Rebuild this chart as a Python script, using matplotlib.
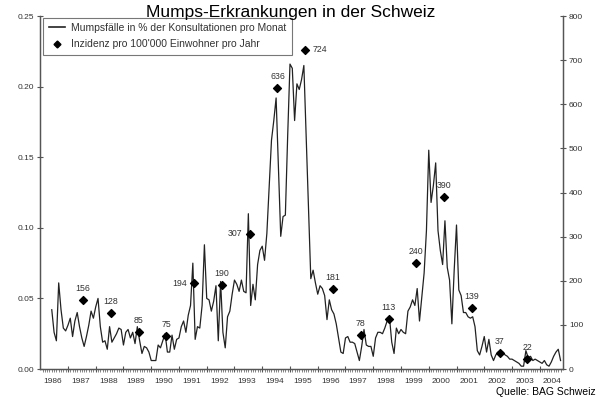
import numpy as np
import matplotlib
matplotlib.use("Agg")
import matplotlib.pyplot as plt
from matplotlib.ticker import FixedLocator, FormatStrFormatter, NullFormatter
from matplotlib.lines import Line2D

plt.rcParams["font.family"] = ["Liberation Sans", "DejaVu Sans"]

# ── Data ──────────────────────────────────────────────────────────────────────
# monthly share of mumps cases in % of consultations (Sentinella), from June 1986
first_month = 5  # months after Jan 1986
pct_1986 = [0.042, 0.026, 0.020, 0.061, 0.042, 0.029, 0.027]
pct_1987 = [0.031, 0.036, 0.023, 0.034, 0.040, 0.030, 0.022, 0.016, 0.023, 0.031, 0.041, 0.036]
pct_1988 = [0.044, 0.050, 0.030, 0.019, 0.020, 0.014, 0.030, 0.019, 0.022, 0.025, 0.029, 0.028]
pct_1989 = [0.017, 0.026, 0.028, 0.022, 0.026, 0.018, 0.030, 0.020, 0.011, 0.016, 0.015, 0.012]
pct_1990 = [0.006, 0.006, 0.006, 0.017, 0.015, 0.020, 0.025, 0.012, 0.012, 0.024, 0.014, 0.021]
pct_1991 = [0.022, 0.030, 0.034, 0.026, 0.038, 0.045, 0.075, 0.021, 0.030, 0.029, 0.045, 0.088]
pct_1992 = [0.050, 0.049, 0.041, 0.048, 0.059, 0.020, 0.062, 0.026, 0.015, 0.037, 0.041, 0.053]
pct_1993 = [0.063, 0.060, 0.055, 0.063, 0.055, 0.054, 0.110, 0.045, 0.060, 0.049, 0.074, 0.084]
pct_1994 = [0.087, 0.077, 0.096, 0.129, 0.162, 0.176, 0.192, 0.143, 0.094, 0.108, 0.109, 0.165]
pct_1995 = [0.216, 0.213, 0.176, 0.202, 0.198, 0.205, 0.215, 0.165, 0.115, 0.064, 0.070, 0.061]
pct_1996 = [0.053, 0.059, 0.057, 0.052, 0.035, 0.049, 0.042, 0.039, 0.032, 0.022, 0.012, 0.011]
pct_1997 = [0.022, 0.023, 0.019, 0.019, 0.018, 0.012, 0.006, 0.016, 0.028, 0.017, 0.016, 0.016]
pct_1998 = [0.009, 0.022, 0.026, 0.026, 0.025, 0.029, 0.034, 0.037, 0.019, 0.011, 0.029, 0.025]
pct_1999 = [0.028, 0.026, 0.025, 0.041, 0.044, 0.049, 0.045, 0.057, 0.034, 0.051, 0.068, 0.098]
pct_2000 = [0.155, 0.118, 0.130, 0.146, 0.098, 0.084, 0.074, 0.105, 0.072, 0.063, 0.032, 0.070]
pct_2001 = [0.102, 0.056, 0.052, 0.040, 0.040, 0.037, 0.036, 0.037, 0.030, 0.013, 0.010, 0.016]
pct_2002 = [0.023, 0.012, 0.021, 0.010, 0.006, 0.010, 0.012, 0.011, 0.012, 0.010, 0.009, 0.007]
pct_2003 = [0.007, 0.006, 0.005, 0.004, 0.002, 0.002, 0.013, 0.008, 0.009, 0.006, 0.007, 0.006]
pct_2004 = [0.005, 0.004, 0.006, 0.003, 0.002, 0.005, 0.009, 0.012, 0.014, 0.006]

# yearly incidence per 100'000 inhabitants
inc_years = [1987, 1988, 1989, 1990, 1991, 1992, 1993, 1994, 1995,
             1996, 1997, 1998, 1999, 2000, 2001, 2002, 2003]
incidence = [156, 128, 85, 75, 194, 190, 307, 636, 724,
             181, 78, 113, 240, 390, 139, 37, 22]

year_labels = list(range(1986, 2005))

monthly = np.concatenate([pct_1986, pct_1987, pct_1988, pct_1989, pct_1990,
                          pct_1991, pct_1992, pct_1993, pct_1994, pct_1995,
                          pct_1996, pct_1997, pct_1998, pct_1999, pct_2000,
                          pct_2001, pct_2002, pct_2003, pct_2004])
months_x = 1986 + (first_month + np.arange(len(monthly))) / 12

# label placement for the incidence values (style, not data)
label_side = {1991: "left", 1993: "left", 1995: "right"}

# ── Plot ──────────────────────────────────────────────────────────────────────
grey = "#555555"
txt = "#333333"

fig = plt.figure(figsize=(6.0, 3.97), dpi=100)
ax = fig.add_axes([0.067, 0.0705, 0.871, 0.889])
ax2 = ax.twinx()

ax.plot(months_x, monthly, color="#222222", lw=0.9)
ax.set_xlim(1986, 2004.83)
ax.set_ylim(0, 0.25)
ax2.set_ylim(0, 800)

inc_x = np.array(inc_years) + 0.55
ax2.scatter(inc_x, incidence, marker="D", s=16, color="black", zorder=4)
for x, v, yr in zip(inc_x, incidence, inc_years):
    side = label_side.get(yr, "top")
    if side == "left":
        ax2.annotate(str(v), (x, v), xytext=(-5, 0), textcoords="offset points",
                     ha="right", va="center", fontsize=6.3, color=txt)
    elif side == "right":
        ax2.annotate(str(v), (x, v), xytext=(5, 0), textcoords="offset points",
                     ha="left", va="center", fontsize=6.3, color=txt)
    else:
        ax2.annotate(str(v), (x, v), xytext=(0, 5), textcoords="offset points",
                     ha="center", va="bottom", fontsize=6.3, color=txt)

for a in (ax, ax2):
    a.spines["top"].set_visible(False)
    for s in ("left", "right", "bottom"):
        a.spines[s].set_color(grey)
        a.spines[s].set_linewidth(0.9)

ax.set_yticks(np.arange(0, 0.2501, 0.05))
ax.yaxis.set_major_formatter(FormatStrFormatter("%.2f"))
ax2.set_yticks(np.arange(0, 801, 100))
ax.tick_params(axis="y", direction="inout", length=5, width=0.8, color=grey,
               labelsize=6, labelcolor=txt, pad=2)
ax2.tick_params(axis="y", direction="inout", length=5, width=0.8, color=grey,
                labelsize=6, labelcolor=txt, pad=2)

ax.xaxis.set_major_locator(FixedLocator(year_labels[1:]))
ax.xaxis.set_major_formatter(NullFormatter())
ax.xaxis.set_minor_locator(FixedLocator(1986 + np.arange(1, 227) / 12))
ax.tick_params(axis="x", which="major", direction="inout", length=5, width=0.8, color=grey)
ax.tick_params(axis="x", which="minor", direction="out", length=2, width=0.5, color=grey)
for yr in year_labels:
    ax.text(yr + 0.45, -0.034, str(yr), transform=ax.get_xaxis_transform(),
            ha="center", va="center", fontsize=6, color=txt)

handles = [Line2D([], [], color="#222222", lw=1.2),
           Line2D([], [], marker="D", ls="none", color="black", markersize=3.5)]
leg = ax2.legend(handles,
                 ["Mumpsfälle in % der Konsultationen pro Monat",
                  "Inzidenz pro 100'000 Einwohner pro Jahr"],
                 loc="upper left", bbox_to_anchor=(0.006, 0.995), fontsize=7.5,
                 frameon=True, fancybox=False, edgecolor=grey, borderaxespad=0,
                 handlelength=1.6, handletextpad=0.6, borderpad=0.5, labelspacing=0.6)
leg.get_frame().set_linewidth(0.8)
for t in leg.get_texts():
    t.set_color(txt)

fig.text(0.485, 0.958, "Mumps-Erkrankungen in der Schweiz", ha="center",
         va="baseline", fontsize=12.5, color="black")
fig.text(0.992, 0.004, "Quelle: BAG Schweiz", ha="right", va="baseline",
         fontsize=7.5, color="black")

fig.savefig("out.png", dpi=100)
